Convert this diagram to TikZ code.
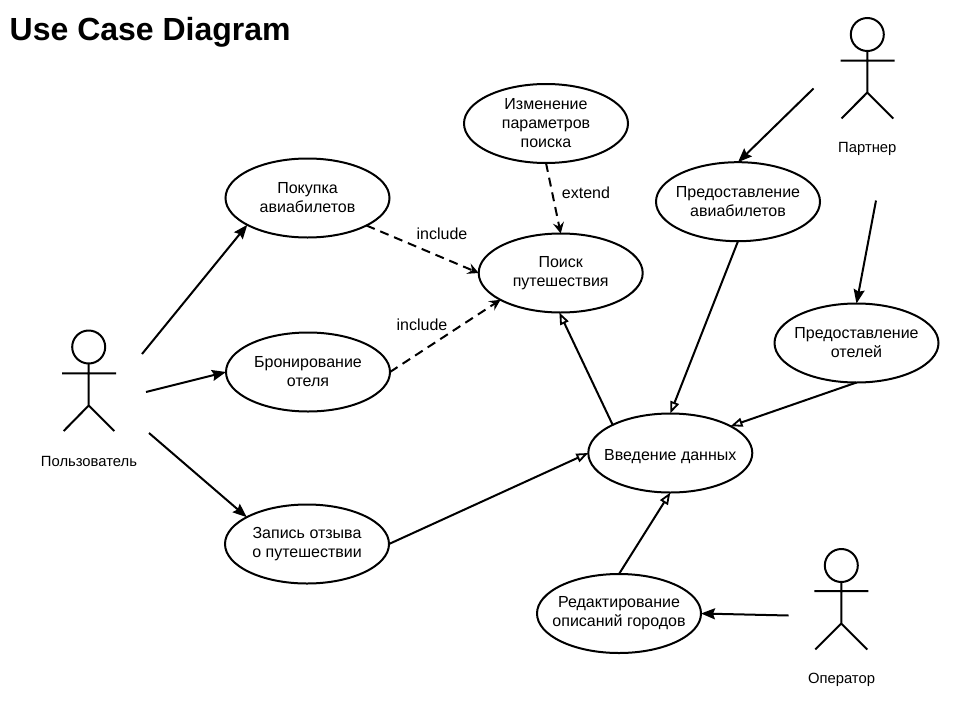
\documentclass[tikz,border=0pt]{standalone}
\usepackage{fontspec}
\setmainfont{Liberation Sans}
\usetikzlibrary{arrows.meta,shapes.geometric}
\tikzset{
  x=1pt,y=-1pt,
  every node/.style={font=\fontsize{16}{19}\selectfont},
  usecase/.style={draw,ellipse,line width=2pt,minimum width=164pt,minimum height=79pt,inner sep=-30pt,outer sep=0pt,align=center,execute at begin node={\rule{0pt}{17.5pt}}},
  actorline/.style={line width=2pt},
  head/.style={draw,circle,line width=2pt,minimum size=33pt,inner sep=0pt,outer sep=0pt},
  actorlabel/.style={font=\fontsize{14.8}{18}\selectfont},
  assoc/.style={line width=2pt,-{Stealth[length=14pt,width=11pt,inset=2pt]}},
  dep/.style={line width=2pt,dash pattern=on 9pt off 6pt,-{Stealth[length=11pt,width=11pt,inset=4pt]}},
  gen/.style={line width=2pt,-{Triangle[open,length=12pt,width=9pt,line width=1.8pt]}},
  edgetext/.style={inner sep=0pt}
}
\begin{document}
\begin{tikzpicture}
\useasboundingbox (0,0) rectangle (960,720);
\node[anchor=base west,inner sep=0pt,font=\fontsize{32}{36}\selectfont\bfseries] (title) at (9.5,40.2) {Use Case Diagram};

\node[usecase] (buy) at (307.5,198) {Покупка\\авиабилетов};
\node[usecase] (book) at (308,372) {Бронирование\\отеля};
\node[usecase] (review) at (307,544) {Запись отзыва\\о путешествии};
\node[usecase] (search) at (560.7,273) {Поиск\\путешествия};
\node[usecase] (change) at (546,123.5) {Изменение\\параметров\\поиска};
\node[usecase] (air) at (738,201.7) {Предоставление\\авиабилетов};
\node[usecase] (hotel) at (856.5,343) {Предоставление\\отелей};
\node[usecase] (data) at (670.3,453) {Введение данных};
\node[usecase] (edit) at (619,613.5) {Редактирование\\описаний городов};

% actors
\node[head] (h1) at (88.7,347) {};
\coordinate (n1) at (88.7,405.5);
\coordinate (al1) at (62,373.3); \coordinate (ar1) at (116,373.3);
\coordinate (ll1) at (63.7,431); \coordinate (lr1) at (114.3,431);
\draw[actorline] (h1.south) -- (n1) (al1) -- (ar1) (ll1) -- (n1) -- (lr1);
\node[actorlabel] (l1) at (89,461) {Пользователь};

\node[head] (h2) at (867.3,34.5) {};
\coordinate (n2) at (867.3,92.5);
\coordinate (al2) at (840.7,60.5); \coordinate (ar2) at (894.7,60.5);
\coordinate (ll2) at (841.5,118.5); \coordinate (lr2) at (893.3,118.5);
\draw[actorline] (h2.south) -- (n2) (al2) -- (ar2) (ll2) -- (n2) -- (lr2);
\node[actorlabel] (l2) at (867.3,148.5) {Партнер};

\node[head] (h3) at (841.3,565.5) {};
\coordinate (n3) at (841.3,623.5);
\coordinate (al3) at (814.3,591); \coordinate (ar3) at (868.3,591);
\coordinate (ll3) at (815.3,649.5); \coordinate (lr3) at (867.3,649.5);
\draw[actorline] (h3.south) -- (n3) (al3) -- (ar3) (ll3) -- (n3) -- (lr3);
\node[actorlabel] (l3) at (841.5,679.5) {Оператор};

% free ends
\coordinate (u1) at (142,354);
\coordinate (u2) at (146,392);
\coordinate (u3) at (149,433);
\coordinate (p1) at (813.5,88.5);
\coordinate (p2) at (876,200.5);
\coordinate (o1) at (788.5,615.5);

% associations
\draw[assoc] (u1) -- (buy.204.6);
\draw[assoc] (u2) -- (book.west);
\draw[assoc] (u3) -- (review.156);
\draw[assoc] (p1) -- (air.north);
\draw[assoc] (p2) -- (hotel.north);
\draw[assoc] (o1) -- (edit.east);

% dependencies
\draw[dep] (buy.-25.8) -- (search.180);
\draw[dep] (book.east) -- (search.204);
\draw[dep] (change.south) -- (search.90);
\node[edgetext] (inc1) at (442,234) {include};
\node[edgetext] (inc2) at (422,325) {include};
\node[edgetext] (ext) at (586,193) {extend};

% generalisations
\draw[gen] (air.south) -- (data.90);
\draw[gen] (hotel.south) -- (data.24);
\draw[gen] (data.154) -- (search.268);
\draw[gen] (review.east) -- (data.west);
\draw[gen] (edit.north) -- (data.270);
\end{tikzpicture}
\end{document}
